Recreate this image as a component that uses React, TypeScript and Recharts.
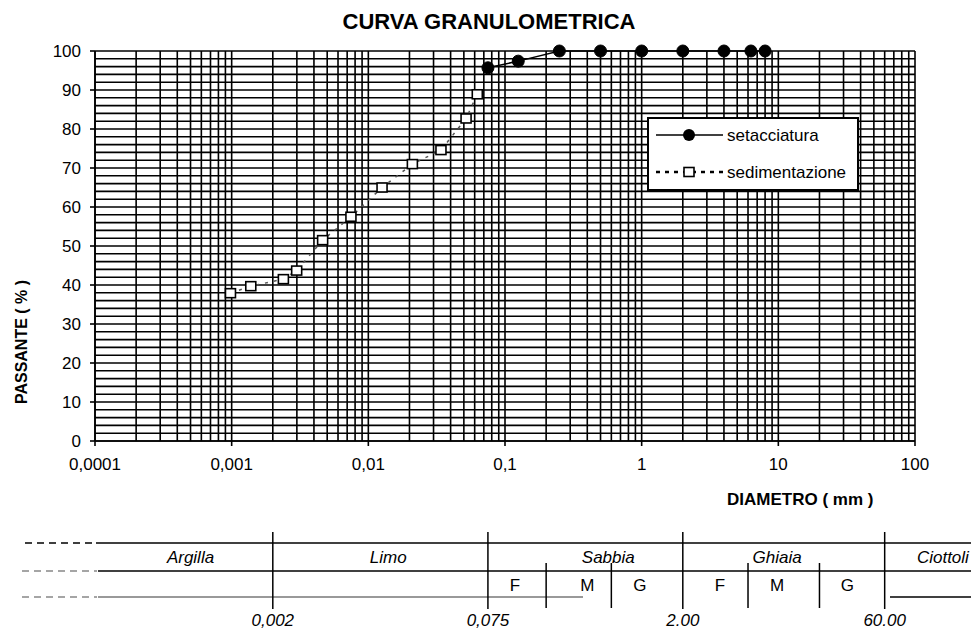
import { LineChart, Line, XAxis, YAxis, ReferenceLine } from 'recharts'

// setacciatura (sieve analysis)
const sieveDiam = [0.075, 0.125, 0.25, 0.5, 1, 2, 4, 6.3, 8]
const sievePass = [95.7, 97.4, 100, 100, 100, 100, 100, 100, 100]

// sedimentazione (hydrometer analysis)
const sedDiam = [0.00098, 0.00138, 0.00239, 0.00299, 0.00463, 0.00746, 0.0126, 0.021, 0.034, 0.0519, 0.0627]
const sedPass = [37.9, 39.7, 41.5, 43.7, 51.5, 57.5, 65.0, 71.0, 74.6, 82.7, 88.9]

const xTicks = [0.0001, 0.001, 0.01, 0.1, 1, 10, 100]
const yTicks = [0, 10, 20, 30, 40, 50, 60, 70, 80, 90, 100]

// classification table under the chart
const classBounds = [0.002, 0.075, 2, 60]
const classBoundLabels = ['0,002', '0,075', '2.00', '60.00']
const subBounds = [0.2, 0.6, 6, 20]
const classNames = ['Argilla', 'Limo', 'Sabbia', 'Ghiaia', 'Ciottoli']
const classAt = [0.0005, 0.014, 0.57, 9.8, 160]
const subNames = ['F', 'M', 'G', 'F', 'M', 'G']
const subAt = [0.118, 0.4, 0.97, 3.74, 9.8, 32]

const sieveData = sieveDiam.map((d, i) => ({ d, p: sievePass[i] }))
const sedData = sedDiam.map((d, i) => ({ d, p: sedPass[i] }))

// grid: 1..9 per decade, every 2 %
const vGrid: number[] = []
for (let e = -4; e < 2; e++) for (let k = 1; k < 10; k++) vGrid.push(Number((k * Math.pow(10, e)).toPrecision(3)))
vGrid.push(100)
const hGrid: number[] = []
for (let v = 0; v <= 100; v += 2) hGrid.push(v)

const FONT = '"Liberation Sans", Arial, sans-serif'
const W = 971
const PL = 95
const PR = 915
const PT = 51

const sx = (d: number) => PL + ((Math.log10(d) + 4) / 6) * (PR - PL)

const fmt = (v: number) => String(v).replace('.', ',')

const Square = (props: any) => {
  const { cx, cy, index } = props
  if (cx == null || cy == null) return <g key={`s${index}`} />
  return <rect key={`s${index}`} x={cx - 5} y={cy - 4.5} width={10} height={9} fill="#fff" stroke="#000" strokeWidth={1.6} />
}

export default function App() {
  return (
    <div style={{ position: 'absolute', left: 0, top: 0, width: W, height: 630, background: '#fff', fontFamily: FONT }}>
      <LineChart width={W} height={480} margin={{ top: PT, right: W - PR, bottom: 9, left: PL - 40 }}>
        {hGrid.map((v) => (
          <ReferenceLine key={`h${v}`} y={v} stroke="#000" strokeWidth={1.6} />
        ))}
        {vGrid.map((v) => (
          <ReferenceLine key={`v${v}`} x={v} stroke="#000" strokeWidth={1.6} />
        ))}
        <XAxis
          type="number"
          dataKey="d"
          scale="log"
          domain={[0.0001, 100]}
          ticks={xTicks}
          allowDataOverflow
          height={30}
          tickFormatter={fmt}
          tickSize={5}
          tickMargin={12}
          stroke="#000"
          strokeWidth={1.6}
          tick={{ fill: '#000', fontSize: 17, fontFamily: FONT }}
        />
        <YAxis
          type="number"
          dataKey="p"
          domain={[0, 100]}
          ticks={yTicks}
          width={40}
          tickSize={5}
          tickMargin={9}
          stroke="#000"
          strokeWidth={1.6}
          tick={{ fill: '#000', fontSize: 17, fontFamily: FONT }}
        />
        <Line
          data={sedData}
          dataKey="p"
          name="sedimentazione"
          stroke="#555"
          strokeWidth={1.5}
          strokeDasharray="3 6"
          dot={Square}
          activeDot={false}
          isAnimationActive={false}
        />
        <Line
          data={sieveData}
          dataKey="p"
          name="setacciatura"
          stroke="#000"
          strokeWidth={1.5}
          dot={{ r: 6, fill: '#000', stroke: '#000', strokeWidth: 1 }}
          activeDot={false}
          isAnimationActive={false}
        />
      </LineChart>

      <svg width={W} height={630} style={{ position: 'absolute', left: 0, top: 0, pointerEvents: 'none' }} fontFamily={FONT}>
        <text x={489} y={29} textAnchor="middle" fontSize={22} fontWeight="bold" fill="#000">CURVA GRANULOMETRICA</text>
        <text transform="translate(27,342) rotate(-90)" textAnchor="middle" fontSize={16} fontWeight="bold" fill="#000">PASSANTE ( % )</text>
        <text x={727} y={505} fontSize={17} fontWeight="bold" fill="#000">DIAMETRO ( mm )</text>

        {/* legend */}
        <g transform="translate(648,118)">
          <rect x={0} y={0} width={210} height={72} fill="#fff" stroke="#000" strokeWidth={2} />
          <line x1={8} x2={75} y1={17} y2={17} stroke="#000" strokeWidth={1.5} />
          <circle cx={41} cy={17} r={6} fill="#000" />
          <text x={79} y={23} fontSize={17} fill="#000">setacciatura</text>
          <line x1={8} x2={75} y1={54} y2={54} stroke="#000" strokeWidth={2.5} strokeDasharray="4 5" />
          <rect x={36} y={49.5} width={10} height={9} fill="#fff" stroke="#000" strokeWidth={1.6} />
          <text x={79} y={60} fontSize={17} fill="#000">sedimentazione</text>
        </g>

        {/* table rows */}
        <line x1={25} x2={92} y1={543} y2={543} stroke="#000" strokeWidth={1.5} strokeDasharray="7 5" />
        <line x1={96} x2={W} y1={543} y2={543} stroke="#000" strokeWidth={1.5} />
        <line x1={22} x2={97} y1={571} y2={571} stroke="#888" strokeWidth={1.5} strokeDasharray="7 5" />
        <line x1={98} x2={W} y1={571} y2={571} stroke="#000" strokeWidth={1.5} />
        <line x1={22} x2={97} y1={597} y2={597} stroke="#888" strokeWidth={1.5} strokeDasharray="7 5" />
        <line x1={98} x2={583} y1={597} y2={597} stroke="#999" strokeWidth={1.8} />
        <line x1={890} x2={W} y1={597} y2={597} stroke="#000" strokeWidth={1.5} />

        {classBounds.map((b, i) => (
          <g key={`cb${i}`}>
            <line x1={sx(b)} x2={sx(b)} y1={532} y2={609} stroke="#000" strokeWidth={1.5} />
            <text x={sx(b)} y={626} textAnchor="middle" fontSize={17} fontStyle="italic" fill="#000">{classBoundLabels[i]}</text>
          </g>
        ))}
        {subBounds.map((b, i) => (
          <line key={`sb${i}`} x1={sx(b)} x2={sx(b)} y1={563} y2={608} stroke="#000" strokeWidth={1.5} />
        ))}
        {classNames.map((n, i) => (
          <text key={`cn${i}`} x={sx(classAt[i])} y={563} textAnchor="middle" fontSize={17} fontStyle="italic" fill="#000">{n}</text>
        ))}
        {subNames.map((n, i) => (
          <text key={`sn${i}`} x={sx(subAt[i])} y={591} textAnchor="middle" fontSize={17} fill="#000">{n}</text>
        ))}
      </svg>
    </div>
  )
}
